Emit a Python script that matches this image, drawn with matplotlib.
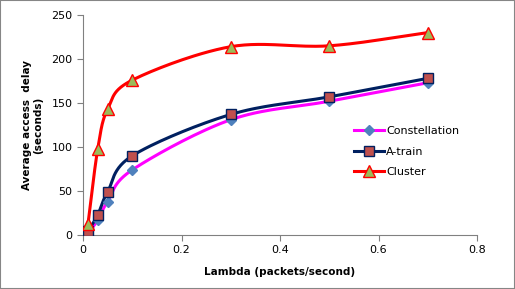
import matplotlib
matplotlib.use('Agg')
import matplotlib.pyplot as plt
import numpy as np

# data
lam = [0.01, 0.03, 0.05, 0.1, 0.3, 0.5, 0.7]
constellation = [2, 17, 38, 74, 131, 152, 173]
atrain = [4, 23, 49, 90, 137, 157, 178]
cluster = [12, 98, 143, 176, 214, 215, 230]


def smooth(x, y, n=30):
    # Catmull-Rom curve through the points (like Excel "smoothed line")
    x = np.asarray(x, float)
    y = np.asarray(y, float)
    px = np.concatenate([[2 * x[0] - x[1]], x, [2 * x[-1] - x[-2]]])
    py = np.concatenate([[2 * y[0] - y[1]], y, [2 * y[-1] - y[-2]]])
    xs, ys = [], []
    t = np.linspace(0, 1, n)
    for i in range(1, len(px) - 2):
        for p, out in ((px, xs), (py, ys)):
            p0, p1, p2, p3 = p[i - 1], p[i], p[i + 1], p[i + 2]
            out.extend(0.5 * ((2 * p1) + (-p0 + p2) * t
                              + (2 * p0 - 5 * p1 + 4 * p2 - p3) * t ** 2
                              + (-p0 + 3 * p1 - 3 * p2 + p3) * t ** 3))
    return xs, ys


fig = plt.figure(figsize=(5.15, 2.89), dpi=100)
ax = fig.add_axes([83 / 515, 1 - 235 / 289, 394 / 515, 220 / 289])

series = [
    ('Constellation', constellation, '#FF00FF', 'D', '#4F81BD', '#4F81BD', 5),
    ('A-train', atrain, '#002060', 's', '#C0504D', '#002060', 7),
    ('Cluster', cluster, '#FF0000', '^', '#9BBB59', '#FF0000', 8),
]
for name, vals, lc, mk, mfc, mec, ms in series:
    sx, sy = smooth(lam, vals)
    ax.plot(sx, sy, color=lc, lw=2.2, zorder=2)
    ax.plot(lam, vals, ls='none', marker=mk, mfc=mfc, mec=mec, ms=ms, mew=1, zorder=3)
    ax.plot([], [], color=lc, lw=2.2, marker=mk, mfc=mfc, mec=mec, ms=ms, mew=1, label=name)

ax.set_xlim(0, 0.8)
ax.set_ylim(0, 250)
ax.set_xticks([0, 0.2, 0.4, 0.6, 0.8])
ax.set_xticklabels(['0', '0.2', '0.4', '0.6', '0.8'])
ax.set_yticks([0, 50, 100, 150, 200, 250])
for s in ['top', 'right']:
    ax.spines[s].set_visible(False)
for s in ['left', 'bottom']:
    ax.spines[s].set_color('#808080')
ax.tick_params(labelsize=8, color='#808080', length=4, direction='out')
ax.set_xlabel('Lambda (packets/second)', fontsize=7.5, fontweight='bold', labelpad=8)
ax.set_ylabel('Average access  delay\n(seconds)', fontsize=7.5, fontweight='bold', labelpad=6)

ax.legend(loc='upper left', bbox_to_anchor=(267 / 394, 0.515), frameon=False, fontsize=8,
          handlelength=2.7, handletextpad=0.15, labelspacing=0.95, borderaxespad=0)

fig.patches.append(plt.Rectangle((0, 0), 1, 1, transform=fig.transFigure,
                                 fill=False, ec='#868686', lw=1.5))
fig.savefig('out.png', dpi=100)
